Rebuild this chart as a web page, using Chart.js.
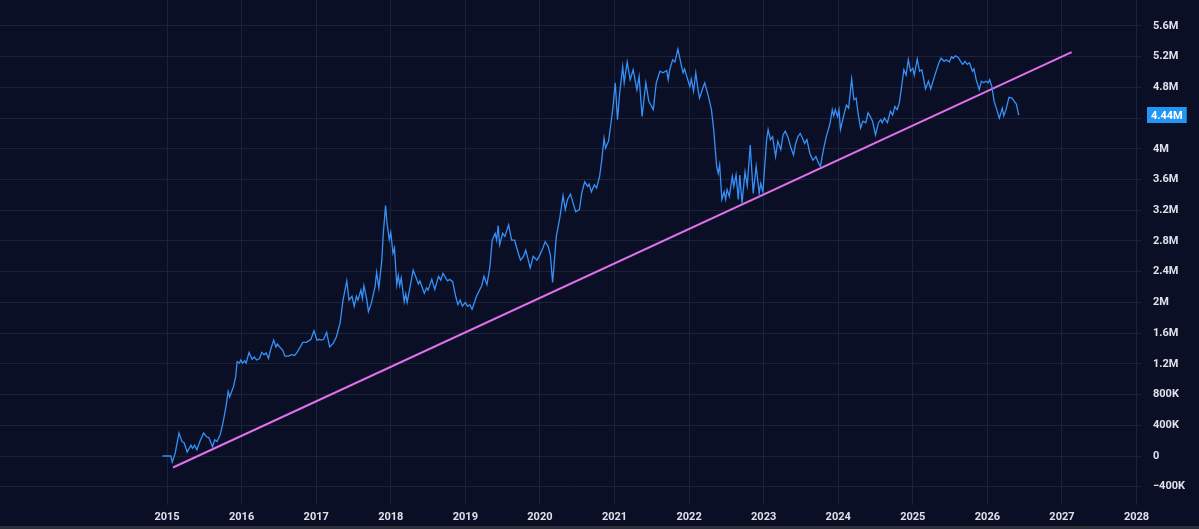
<!DOCTYPE html>
<html>
<head>
<meta charset="utf-8">
<title>Volume trend</title>
<script src="https://cdn.jsdelivr.net/npm/chart.js@4/dist/chart.umd.min.js"></script>
<style>
  html, body { margin: 0; padding: 0; background: #2a2e39; }
  #wrap { position: relative; width: 1199px; height: 526px; background: #0a0f25; }
</style>
</head>
<body>
<div id="wrap"><canvas id="my-chart"></canvas></div>
<script>
'use strict';

// *********** DATA ****************

// decimal years
let years = [
  2014.94, 2015.05, 2015.07, 2015.11, 2015.16, 2015.20, 2015.23, 2015.27, 2015.32, 2015.34,
  2015.37, 2015.40, 2015.44, 2015.49, 2015.53, 2015.56, 2015.61, 2015.64, 2015.67, 2015.71,
  2015.75, 2015.79, 2015.82, 2015.84, 2015.89, 2015.92, 2015.94, 2015.97, 2015.99, 2016.01,
  2016.04, 2016.06, 2016.10, 2016.14, 2016.17, 2016.20, 2016.24, 2016.27, 2016.30, 2016.33,
  2016.36, 2016.39, 2016.43, 2016.46, 2016.48, 2016.51, 2016.55, 2016.58, 2016.63, 2016.67,
  2016.71, 2016.75, 2016.82, 2016.87, 2016.93, 2016.97, 2017.01, 2017.04, 2017.07, 2017.10,
  2017.14, 2017.18, 2017.23, 2017.27, 2017.32, 2017.36, 2017.41, 2017.44, 2017.48, 2017.51,
  2017.54, 2017.56, 2017.60, 2017.62, 2017.64, 2017.68, 2017.70, 2017.74, 2017.79, 2017.81,
  2017.84, 2017.88, 2017.90, 2017.93, 2017.95, 2017.98, 2018.00, 2018.03, 2018.05, 2018.08,
  2018.10, 2018.12, 2018.14, 2018.18, 2018.20, 2018.22, 2018.26, 2018.30, 2018.34, 2018.37,
  2018.39, 2018.45, 2018.48, 2018.50, 2018.55, 2018.59, 2018.64, 2018.67, 2018.70, 2018.73,
  2018.76, 2018.79, 2018.83, 2018.87, 2018.90, 2018.93, 2018.96, 2019.00, 2019.03, 2019.06,
  2019.09, 2019.15, 2019.22, 2019.25, 2019.29, 2019.33, 2019.36, 2019.40, 2019.42, 2019.44,
  2019.46, 2019.50, 2019.53, 2019.58, 2019.62, 2019.66, 2019.71, 2019.74, 2019.78, 2019.81,
  2019.87, 2019.91, 2019.96, 2019.99, 2020.04, 2020.07, 2020.11, 2020.14, 2020.17, 2020.22,
  2020.27, 2020.31, 2020.34, 2020.37, 2020.41, 2020.44, 2020.48, 2020.53, 2020.56, 2020.60,
  2020.64, 2020.66, 2020.69, 2020.73, 2020.76, 2020.80, 2020.83, 2020.86, 2020.88, 2020.92,
  2020.95, 2020.98, 2021.01, 2021.04, 2021.07, 2021.11, 2021.13, 2021.17, 2021.21, 2021.25,
  2021.30, 2021.33, 2021.37, 2021.42, 2021.46, 2021.52, 2021.56, 2021.61, 2021.65, 2021.70,
  2021.72, 2021.74, 2021.78, 2021.81, 2021.85, 2021.90, 2021.92, 2021.94, 2021.97, 2022.01,
  2022.03, 2022.06, 2022.09, 2022.12, 2022.14, 2022.18, 2022.21, 2022.26, 2022.30, 2022.33,
  2022.37, 2022.39, 2022.41, 2022.44, 2022.47, 2022.49, 2022.51, 2022.54, 2022.58, 2022.60,
  2022.63, 2022.66, 2022.68, 2022.71, 2022.75, 2022.78, 2022.82, 2022.86, 2022.90, 2022.94,
  2022.96, 2022.99, 2023.04, 2023.06, 2023.09, 2023.12, 2023.16, 2023.19, 2023.23, 2023.26,
  2023.29, 2023.33, 2023.36, 2023.40, 2023.43, 2023.46, 2023.49, 2023.52, 2023.55, 2023.58,
  2023.62, 2023.66, 2023.70, 2023.73, 2023.76, 2023.81, 2023.84, 2023.89, 2023.92, 2023.94,
  2023.96, 2023.99, 2024.01, 2024.03, 2024.07, 2024.11, 2024.14, 2024.18, 2024.21, 2024.24,
  2024.27, 2024.30, 2024.33, 2024.37, 2024.40, 2024.43, 2024.46, 2024.50, 2024.54, 2024.57,
  2024.59, 2024.62, 2024.66, 2024.70, 2024.73, 2024.76, 2024.79, 2024.82, 2024.85, 2024.88,
  2024.91, 2024.94, 2024.97, 2025.00, 2025.02, 2025.06, 2025.09, 2025.12, 2025.14, 2025.17,
  2025.21, 2025.24, 2025.29, 2025.35, 2025.38, 2025.42, 2025.45, 2025.49, 2025.52, 2025.54,
  2025.57, 2025.61, 2025.64, 2025.67, 2025.70, 2025.73, 2025.76, 2025.80, 2025.82, 2025.85,
  2025.89, 2025.92, 2025.95, 2025.98, 2026.01, 2026.03, 2026.06, 2026.09, 2026.12, 2026.16,
  2026.20, 2026.22, 2026.25, 2026.29, 2026.33, 2026.39, 2026.42
];

// values in millions
let volume = [
  0.00, 0.00, -0.08, 0.04, 0.30, 0.19, 0.17, 0.05, 0.14, 0.10,
  0.14, 0.08, 0.19, 0.30, 0.25, 0.24, 0.12, 0.21, 0.19, 0.27,
  0.43, 0.64, 0.84, 0.77, 0.90, 1.03, 1.23, 1.21, 1.25, 1.21,
  1.24, 1.21, 1.35, 1.26, 1.29, 1.25, 1.27, 1.35, 1.32, 1.34,
  1.27, 1.39, 1.51, 1.42, 1.46, 1.42, 1.38, 1.30, 1.30, 1.32,
  1.31, 1.36, 1.48, 1.48, 1.52, 1.63, 1.51, 1.52, 1.51, 1.52,
  1.61, 1.42, 1.47, 1.55, 1.73, 2.03, 2.28, 2.03, 2.08, 1.95,
  2.08, 2.03, 2.16, 2.05, 2.22, 2.03, 1.88, 1.99, 2.21, 2.39,
  2.19, 2.55, 2.90, 3.26, 3.03, 2.82, 2.91, 2.64, 2.71, 2.23,
  2.35, 2.22, 2.32, 2.01, 2.11, 2.00, 2.21, 2.42, 2.32, 2.24,
  2.28, 2.12, 2.19, 2.16, 2.30, 2.17, 2.34, 2.29, 2.38, 2.33,
  2.28, 2.30, 2.27, 2.08, 1.97, 2.03, 1.95, 2.00, 1.95, 1.97,
  1.91, 2.08, 2.22, 2.34, 2.23, 2.47, 2.81, 2.90, 2.81, 3.00,
  2.75, 2.90, 2.86, 3.01, 2.81, 2.81, 2.64, 2.55, 2.60, 2.68,
  2.45, 2.60, 2.55, 2.60, 2.71, 2.79, 2.73, 2.62, 2.26, 2.86,
  3.12, 3.39, 3.21, 3.34, 3.41, 3.31, 3.18, 3.21, 3.42, 3.57,
  3.51, 3.54, 3.44, 3.53, 3.49, 3.64, 3.86, 4.14, 4.01, 4.10,
  4.31, 4.55, 4.86, 4.38, 4.73, 5.07, 4.86, 5.13, 4.90, 5.03,
  4.77, 4.94, 4.42, 4.86, 4.62, 4.51, 4.86, 5.01, 4.99, 5.02,
  4.90, 5.03, 5.16, 5.13, 5.30, 5.07, 4.99, 5.04, 4.94, 4.81,
  4.91, 4.75, 4.99, 4.77, 4.66, 4.78, 4.86, 4.68, 4.51, 4.25,
  3.77, 3.68, 3.79, 3.34, 3.44, 3.34, 3.47, 3.38, 3.64, 3.51,
  3.66, 3.34, 3.66, 3.29, 3.70, 3.52, 4.05, 3.42, 3.77, 3.42,
  3.55, 3.44, 4.12, 4.25, 4.12, 4.16, 3.90, 4.10, 3.99, 4.18,
  4.23, 4.14, 4.03, 3.92, 4.07, 4.16, 4.20, 4.14, 4.07, 4.12,
  3.94, 3.85, 3.90, 3.83, 3.77, 4.03, 4.16, 4.33, 4.51, 4.43,
  4.51, 4.42, 4.51, 4.25, 4.42, 4.57, 4.53, 4.91, 4.64, 4.66,
  4.44, 4.27, 4.36, 4.34, 4.47, 4.42, 4.36, 4.18, 4.34, 4.38,
  4.34, 4.40, 4.34, 4.49, 4.44, 4.55, 4.51, 4.60, 4.81, 5.03,
  4.96, 5.16, 5.01, 5.05, 4.96, 5.17, 5.01, 5.03, 4.94, 4.78,
  4.88, 4.78, 4.94, 5.12, 5.18, 5.14, 5.16, 5.13, 5.20, 5.18,
  5.21, 5.19, 5.14, 5.10, 5.14, 5.10, 5.12, 5.01, 5.04, 4.90,
  4.77, 4.88, 4.86, 4.88, 4.86, 4.90, 4.81, 4.62, 4.53, 4.40,
  4.53, 4.43, 4.51, 4.67, 4.66, 4.58, 4.44
];

// trend line end points
let trendYears = [2015.08, 2027.13];
let trendValues = [-0.15, 5.26];

// tick labels
let yearTicks = [2015, 2016, 2017, 2018, 2019, 2020, 2021, 2022, 2023, 2024, 2025, 2026, 2027, 2028];
let valueTicks = [-0.4, 0, 0.4, 0.8, 1.2, 1.6, 2.0, 2.4, 2.8, 3.2, 3.6, 4.0, 4.4, 4.8, 5.2, 5.6];
let valueLabels = ['\u2212400K', '0', '400K', '800K', '1.2M', '1.6M', '2M', '2.4M', '2.8M', '3.2M',
  '3.6M', '4M', '4.4M', '4.8M', '5.2M', '5.6M'];

// ********** HELPERS *******************

let gridColor = '#1c2339';
let tickColor = '#dfe2ea';

function buildPoints(xs, ys) {
  let pts = [];
  for (let i = 0; i < xs.length; i++) {
    pts.push({ x: xs[i], y: ys[i] });
  }
  return pts;
}

// last value tag on the price scale
let lastTag = {
  id: 'lastTag',
  afterDraw(chart) {
    let yScale = chart.scales.y;
    let last = volume[volume.length - 1];
    let py = Math.round(yScale.getPixelForValue(last));
    let c = chart.ctx;
    let text = last.toFixed(2) + 'M';
    c.save();
    c.font = 'bold 11px Roboto';
    let w = c.measureText(text).width + 8;
    c.fillStyle = '#2196f3';
    c.fillRect(yScale.left + 6, py - 8, w, 16);
    c.fillStyle = '#ffffff';
    c.textBaseline = 'middle';
    c.fillText(text, yScale.left + 10, py + 1);
    c.restore();
  }
};

// ********** CHART ***************

let ctx = document.getElementById('my-chart').getContext('2d');

new Chart(ctx, {
  type: 'line',
  data: {
    datasets: [{
      data: buildPoints(years, volume),
      borderColor: '#3590f8',
      borderWidth: 1.3,
      pointRadius: 0,
      tension: 0
    },
    {
      data: buildPoints(trendYears, trendValues),
      borderColor: '#e070ec',
      borderWidth: 2,
      pointRadius: 0
    }]
  },
  options: {
    responsive: true,
    maintainAspectRatio: false,
    animation: false,
    layout: { padding: 0 },
    plugins: {
      legend: { display: false },
      tooltip: { enabled: false }
    },
    scales: {
      x: {
        type: 'linear',
        min: 2012.76,
        max: 2028.06,
        afterBuildTicks: (scale) => {
          scale.ticks = yearTicks.map((v) => ({ value: v }));
        },
        afterFit: (scale) => {
          scale.height = 21;
          scale.paddingLeft = 0;
          scale.paddingRight = 0;
        },
        grid: { color: gridColor, drawTicks: false },
        border: { display: false },
        ticks: {
          color: tickColor,
          padding: 6,
          maxRotation: 0,
          font: { family: 'Roboto', size: 11, weight: 'bold' },
          callback: (v) => String(v)
        }
      },
      y: {
        position: 'right',
        min: -0.638,
        max: 5.938,
        afterBuildTicks: (scale) => {
          scale.ticks = valueTicks.map((v) => ({ value: v }));
        },
        afterFit: (scale) => {
          scale.width = 58;
          scale.paddingTop = 0;
          scale.paddingBottom = 0;
        },
        grid: { color: gridColor, drawTicks: false },
        border: { display: false },
        ticks: {
          color: tickColor,
          padding: 12,
          font: { family: 'Roboto', size: 11, weight: 'bold' },
          callback: (v, i) => valueLabels[i]
        }
      }
    }
  },
  plugins: [lastTag]
});
</script>
</body>
</html>
